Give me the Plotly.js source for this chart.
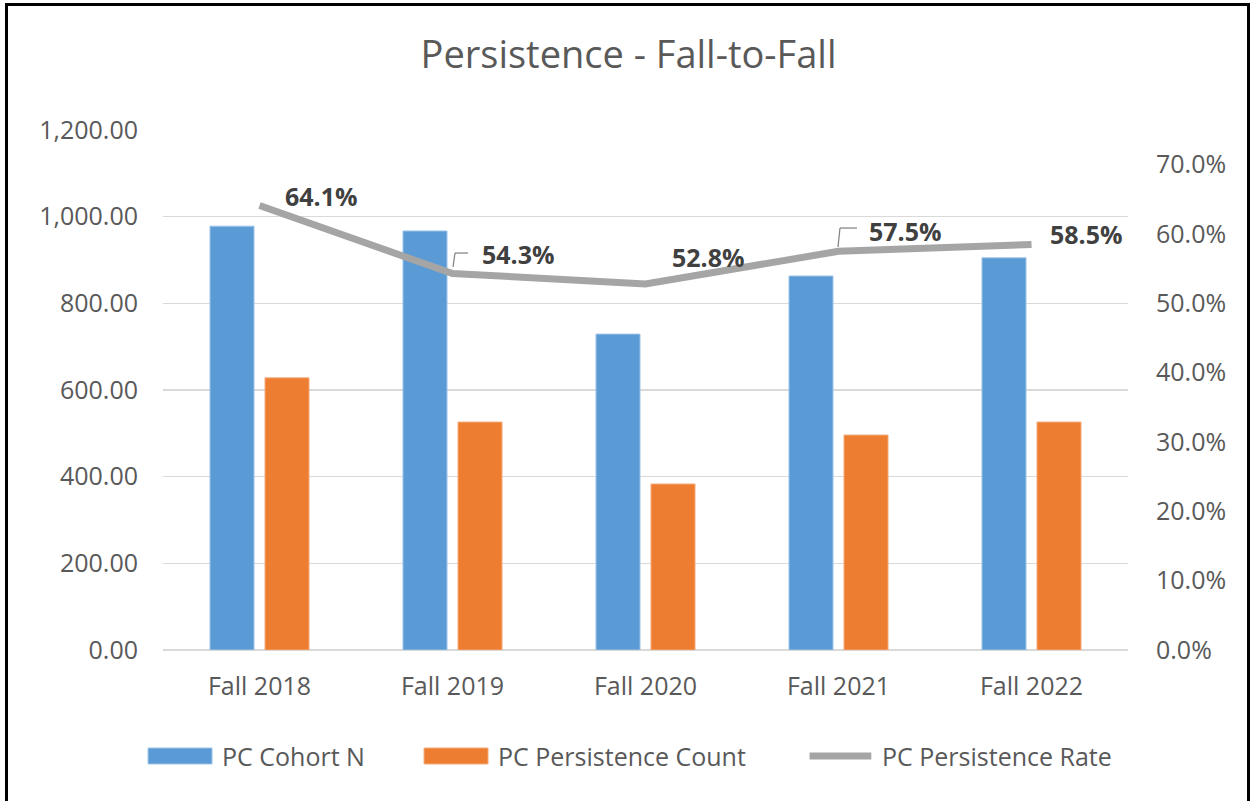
<!DOCTYPE html>
<html><head><meta charset="utf-8">
<script src="https://cdn.plot.ly/plotly-3.0.1.min.js"></script>
<style>
html,body{margin:0;padding:0;background:#fff;overflow:hidden;}
#chart{width:1252px;height:801px;}
#frame{position:absolute;left:5px;top:3px;width:1245px;height:830px;border:3px solid #000;box-sizing:border-box;pointer-events:none;}
</style></head>
<body>
<div id="chart"></div>
<div id="frame"></div>
<script>
const categories = ['Fall 2018','Fall 2019','Fall 2020','Fall 2021','Fall 2022'];
const cohortN = [978, 967, 729, 863, 905];
const persistenceCount = [628, 526, 383, 496, 526];
const persistenceRate = [0.641, 0.543, 0.528, 0.575, 0.585];
const seriesNames = ['PC Cohort N','PC Persistence Count','PC Persistence Rate'];
const leftTicks = [0,200,400,600,800,1000,1200];
const rightTicks = [0,0.1,0.2,0.3,0.4,0.5,0.6,0.7];

const FONT = '"Open Sans", Lato, sans-serif';
const TXT = '#595959';
const BLUE = '#5B9BD5', ORANGE = '#ED7D31', GRAY = '#A5A5A5';

const traces = [
  {type:'bar', name:seriesNames[0], x:categories, y:cohortN,
   marker:{color:BLUE, line:{color:'#9cc3e8', width:1}}, hoverinfo:'x+y'},
  {type:'bar', name:seriesNames[1], x:categories, y:persistenceCount,
   marker:{color:ORANGE, line:{color:'#f4a977', width:1}}, hoverinfo:'x+y'},
  {type:'scatter', mode:'lines', name:seriesNames[2], x:categories, y:persistenceRate,
   yaxis:'y2', line:{color:GRAY, width:7, shape:'linear'}}
];

// label offsets (pixels) relative to the line points, Excel-style placement
const labelShift = [[62,10],[66,19.5],[62.5,26.5],[66.5,20],[54.5,10.5]];
const annotations = persistenceRate.map((v,i)=>({
  x:categories[i], y:v, xref:'x', yref:'y2',
  text:(v*100).toFixed(1)+'%', showarrow:false,
  xshift:labelShift[i][0], yshift:labelShift[i][1],
  xanchor:'center', yanchor:'middle',
  font:{family:FONT, size:25, color:'#404040', weight:'bold'}
}));

// legend (drawn manually to match Excel's wide swatches)
const legX = [0.0591, 0.3451, 0.7430];
seriesNames.forEach((n,i)=>annotations.push({
  x:legX[i], y:-0.2038, xref:'paper', yref:'paper', text:n, showarrow:false,
  xanchor:'left', yanchor:'middle', font:{family:FONT, size:25, color:TXT}
}));

const pxY = 693.33; // pixels per unit of y2
const leaders = [[1,[[0.5,6.5],[2.5,20.5],[15.5,20.5]]],[3,[[-0.5,4.3],[1.5,23.3],[18.5,23.3]]]];
const shapes = [
  {type:'rect', xref:'paper', yref:'paper', x0:-0.0155, x1:0.0508, y0:-0.1885, y1:-0.2192,
   fillcolor:BLUE, line:{color:'#9cc3e8', width:1}},
  {type:'rect', xref:'paper', yref:'paper', x0:0.2705, x1:0.3368, y0:-0.1885, y1:-0.2192,
   fillcolor:ORANGE, line:{color:'#f4a977', width:1}},
  {type:'line', xref:'paper', yref:'paper', x0:0.6700, x1:0.7340, y0:-0.2038, y1:-0.2038,
   line:{color:GRAY, width:7}}
];
leaders.forEach(([i,pts])=>{
  for(let k=0;k<pts.length-1;k++){
    shapes.push({type:'line', xref:'x', yref:'y2',
      x0:i+pts[k][0]/193, y0:persistenceRate[i]+pts[k][1]/pxY,
      x1:i+pts[k+1][0]/193, y1:persistenceRate[i]+pts[k+1][1]/pxY,
      line:{color:'#7f7f7f', width:1.2}});
  }
});

const layout = {
  width:1252, height:801,
  margin:{l:163, r:124, t:130, b:151, pad:0},
  paper_bgcolor:'#fff', plot_bgcolor:'#fff',
  font:{family:FONT, color:TXT},
  title:{text:'Persistence - Fall-to-Fall', x:0.4824, xref:'paper', xanchor:'center',
         y:1-55/801, yref:'container', yanchor:'middle',
         font:{family:FONT, size:38, color:TXT}},
  showlegend:false,
  barmode:'group', bargap:0.43, bargroupgap:0.2,
  xaxis:{type:'category', showgrid:false, zeroline:false, showline:false,
         ticks:'', tickfont:{size:25, color:TXT}, ticklabelstandoff:19},
  yaxis:{range:[0,1200], tickvals:leftTicks, ticktext:leftTicks.map(v=>v.toLocaleString('en-US',{minimumFractionDigits:2})),
         showgrid:true, gridcolor:'#d9d9d9', gridwidth:1.5, zeroline:true, zerolinecolor:'#d9d9d9', zerolinewidth:1.5,
         showline:false, ticks:'', tickfont:{size:25, color:TXT}, ticklabelstandoff:24},
  yaxis2:{overlaying:'y', side:'right', range:[0,0.75], tickvals:rightTicks, tickformat:'.1%',
          showgrid:false, zeroline:false, showline:false, ticks:'',
          tickfont:{size:25, color:TXT}, ticklabelstandoff:27},
  annotations:annotations,
  shapes:shapes
};

Plotly.newPlot('chart', traces, layout, {displayModeBar:false, staticPlot:true});
</script>
</body></html>
